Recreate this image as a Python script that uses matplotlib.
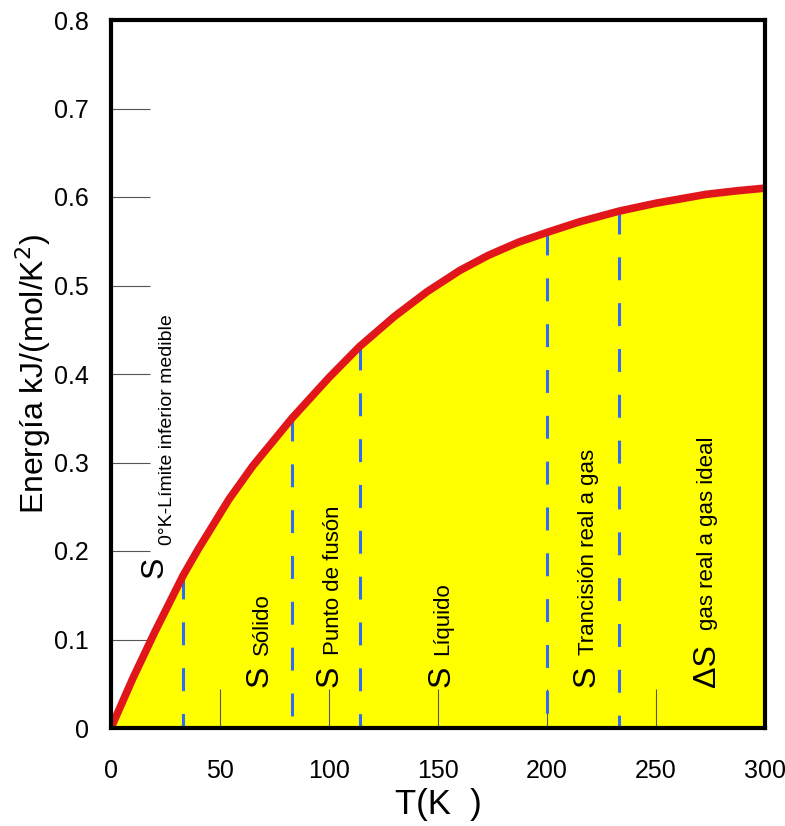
import numpy as np
import matplotlib.pyplot as plt

plt.rcParams['font.family'] = ['Liberation Sans', 'DejaVu Sans']

# entropy curve S(T)
temp = [0, 10, 20, 33, 40, 54, 65, 83, 100, 114, 130, 145, 160, 173, 187,
        200, 215, 233, 250, 273, 287, 300]
energy = [0, 0.056, 0.108, 0.172, 0.202, 0.258, 0.296, 0.350, 0.396, 0.431,
          0.465, 0.493, 0.517, 0.534, 0.549, 0.560, 0.572, 0.584, 0.593,
          0.603, 0.607, 0.610]

# phase boundaries (K)
limits = [33, 83, 114, 200, 233]

xticks = [0, 50, 100, 150, 200, 250, 300]
yticks = [0, 0.1, 0.2, 0.3, 0.4, 0.5, 0.6, 0.7, 0.8]
yticklabels = ['0', '0.1', '0.2', '0.3', '0.4', '0.5', '0.6', '0.7', '0.8']

# labels: big symbol, subscript, x of symbol, y of symbol, x of subscript, y of subscript
labels = [
    ('S', '0°K-Límite inferior medible', 23.5, 0.170, 28.0, 0.207),
    ('S', 'Sólido', 72, 0.046, 72, 0.083),
    ('S', 'Punto de fusón', 104, 0.046, 104.5, 0.083),
    ('S', 'Líquido', 155.5, 0.046, 154.5, 0.083),
    ('S', 'Trancisión real a gas', 222, 0.046, 221.5, 0.083),
    ('ΔS', 'gas real a gas ideal', 277, 0.046, 276, 0.111),
]

fig = plt.figure(figsize=(7.85, 8.26), dpi=100)
ax = fig.add_axes([111/785, 98/826, 654/785, 708/826])

ax.fill_between(temp, energy, 0, color='#ffff00', lw=0, zorder=1)

tops = np.interp(limits, temp, energy)
for x, top in zip(limits, tops):
    ax.plot([x, x], [top, 0], color='#2f6cf5', lw=2.2, dashes=(7.5, 7.5), zorder=3)

ax.plot(temp, energy, color='#e0161b', lw=5.5, solid_capstyle='butt',
        solid_joinstyle='round', zorder=4)

for big, sub, xs, ys, xb, yb in labels:
    ax.text(xs, ys, big, fontsize=23, rotation=90, rotation_mode='anchor',
            ha='left', va='baseline', zorder=5)
    fs = 14 if big == 'S' and xs < 30 else 16
    ax.text(xb, yb, sub, fontsize=fs, rotation=90, rotation_mode='anchor',
            ha='left', va='baseline', zorder=5)

ax.set_xlim(0, 300)
ax.set_ylim(0, 0.8)
ax.set_xticks(xticks)
ax.set_yticks(yticks)
ax.set_yticklabels(yticklabels)
ax.tick_params(direction='in', length=28, width=0.8, color='#555555',
               labelsize=18, top=False, right=False)
ax.tick_params(axis='y', pad=16)
ax.tick_params(axis='x', pad=22)

for s in ax.spines.values():
    s.set_linewidth(3)
    s.set_color('black')
    s.set_zorder(6)

ax.set_xlabel('T(K  )', fontsize=25, labelpad=4)
ax.set_ylabel('Energía kJ/(mol/K$^2$)', fontsize=23, labelpad=1)

plt.savefig('out.png', dpi=100)
